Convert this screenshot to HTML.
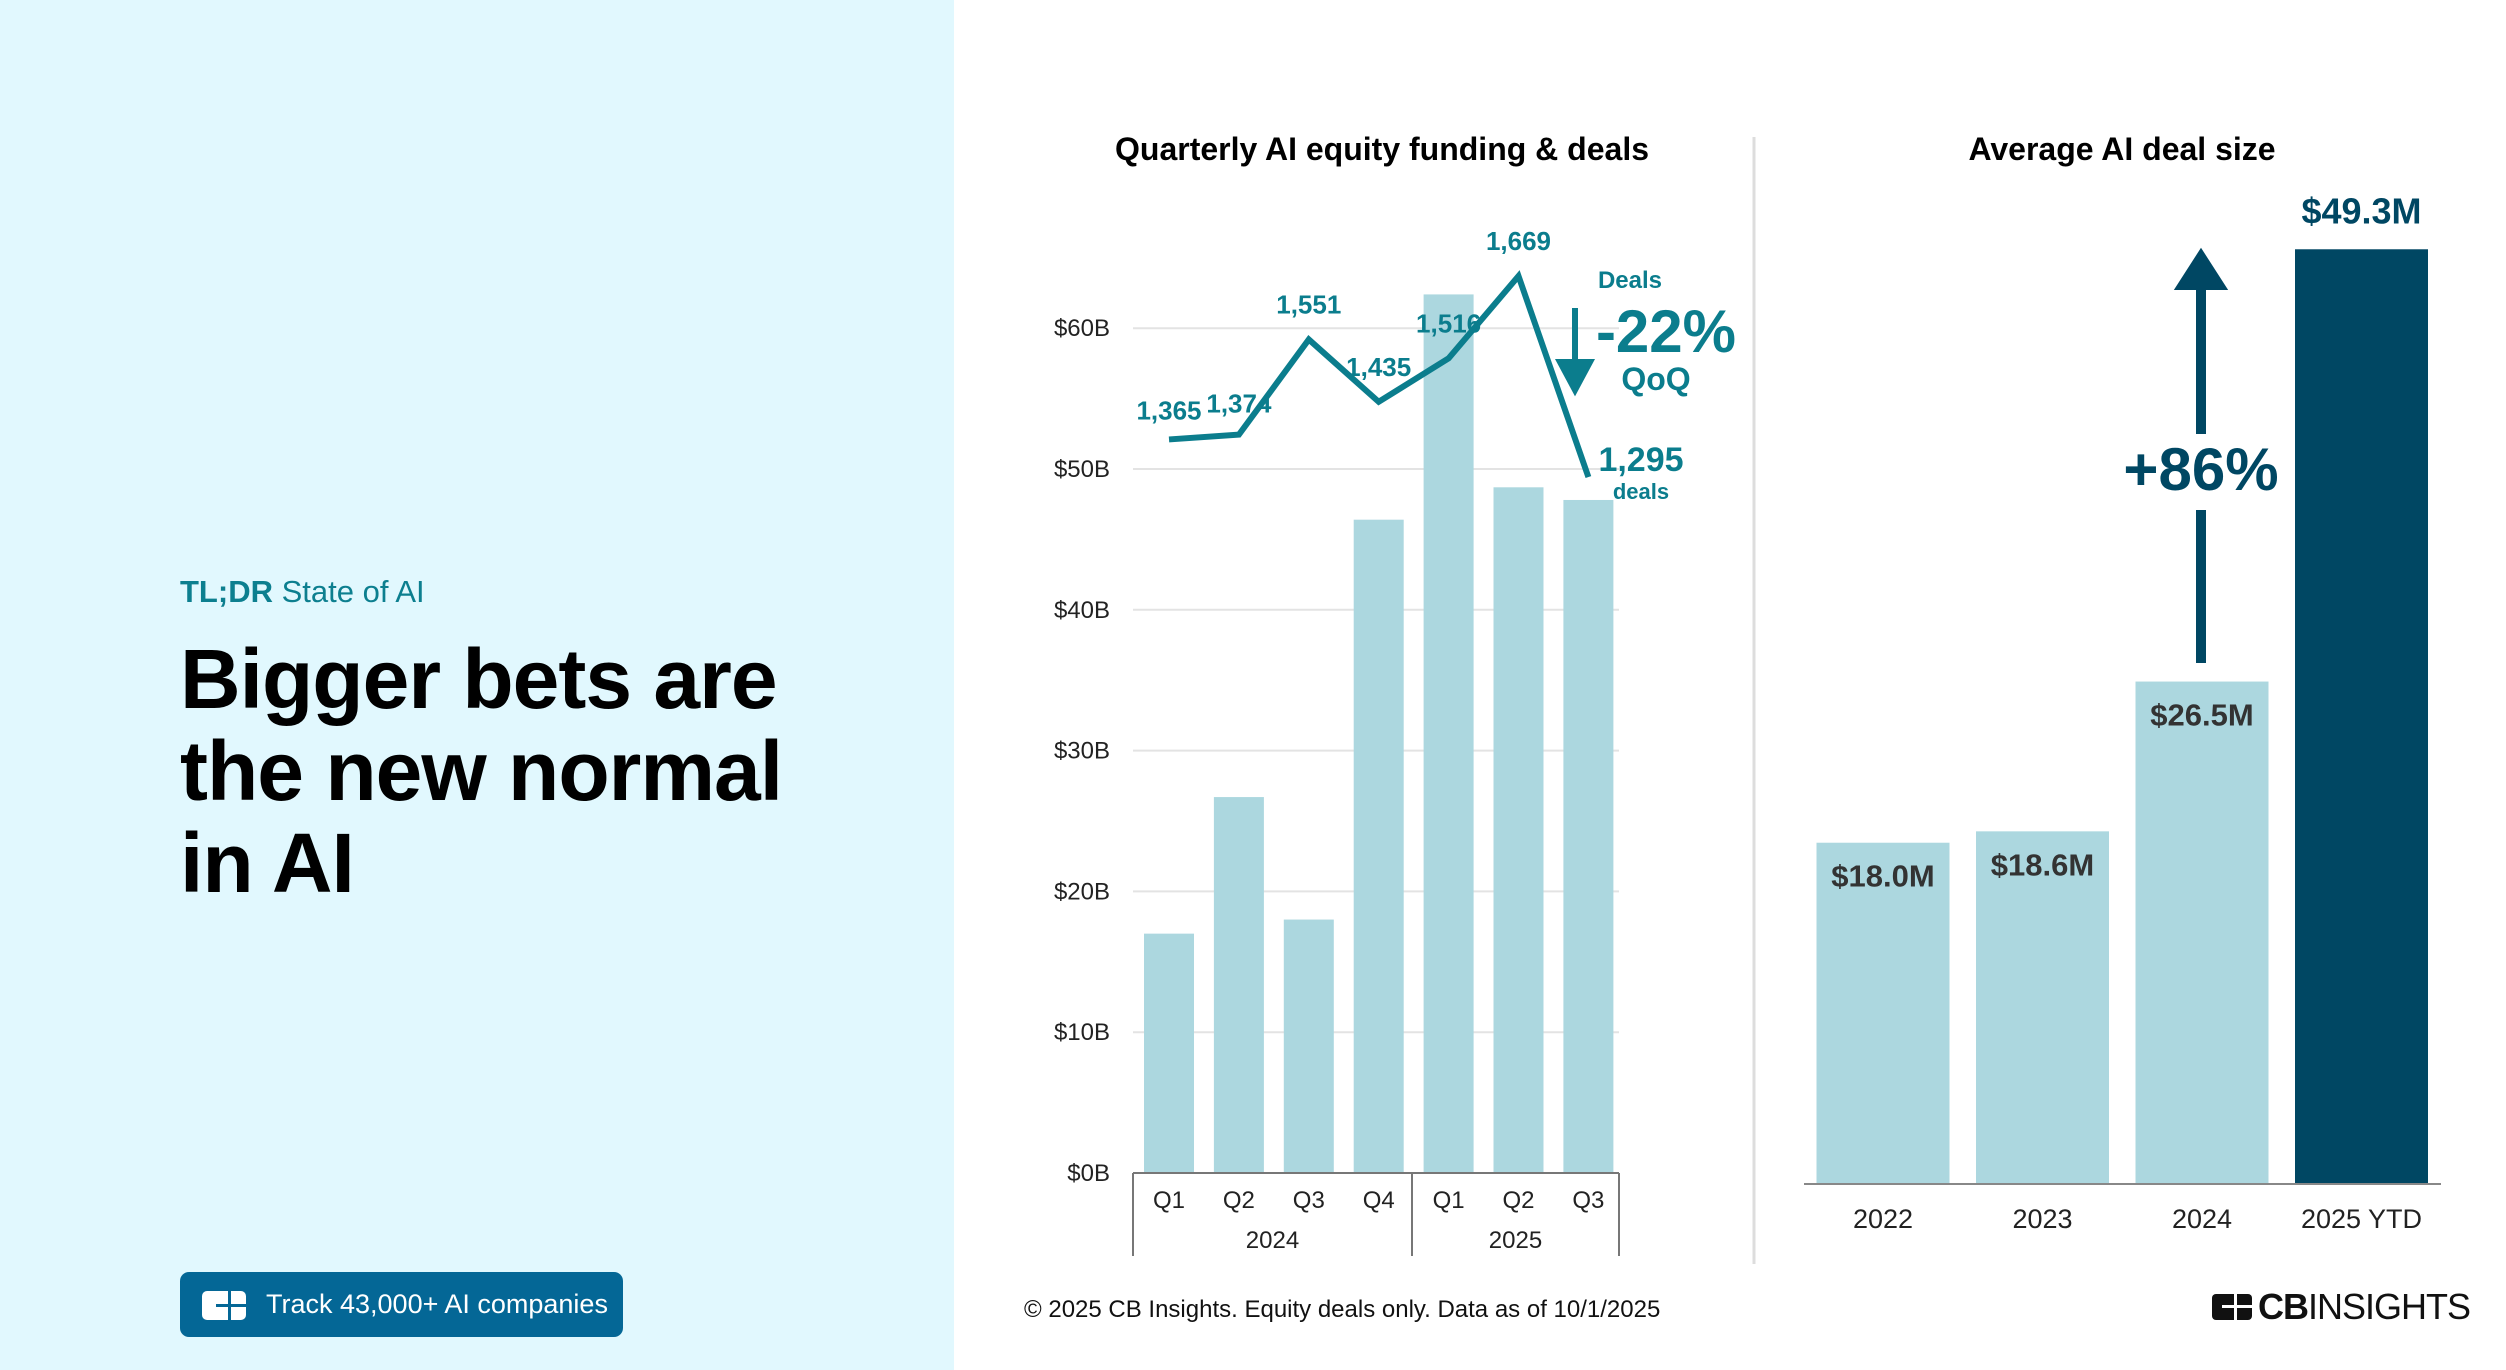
<!DOCTYPE html>
<html><head><meta charset="utf-8"><style>
html,body{margin:0;padding:0;}
body{width:2506px;height:1370px;position:relative;overflow:hidden;background:#fff;font-family:"Liberation Sans",Arial,sans-serif;}
.abs{position:absolute;}
</style></head><body>
<div class="abs" style="left:0;top:0;width:954px;height:1370px;background:#e1f8fe"></div>
<div class="abs" style="left:180px;top:574px;font-size:31px;font-weight:bold;color:#0c7f8f">TL;DR <span style="font-weight:normal">State of AI</span></div>
<div class="abs" style="left:180px;top:633px;font-size:84px;font-weight:bold;line-height:92px;color:#000;letter-spacing:-1px">Bigger bets are<br>the new normal<br>in AI</div>
<div class="abs" style="left:180px;top:1272px;width:443px;height:65px;background:#046796;border-radius:9px;color:#fff;font-size:27px;line-height:65px">
  <span style="position:absolute;left:22px;top:19px;width:44px;height:29px;background:#fff;border-radius:5px"><span style="position:absolute;left:26px;top:0;width:3px;height:29px;background:#046796"></span><span style="position:absolute;left:14px;top:13px;width:30px;height:3px;background:#046796"></span></span>
  <span style="position:absolute;left:86px">Track 43,000+ AI companies</span>
</div>
<div class="abs" style="left:1024px;top:1296px;font-size:24px;color:#111">© 2025 CB Insights. Equity deals only. Data as of 10/1/2025</div>
<div class="abs" style="left:2212px;top:1286px;font-size:36px;color:#111;letter-spacing:-1px;display:flex;align-items:center">
  <span style="display:inline-block;width:40px;height:26px;background:#111;border-radius:4px;margin-right:6px;position:relative"><span style="position:absolute;left:22px;top:0;width:3px;height:26px;background:#fff"></span><span style="position:absolute;left:10px;top:11px;width:30px;height:3px;background:#fff"></span></span><b>CB</b>INSIGHTS</div>

<svg class="abs" style="left:0;top:0" width="2506" height="1370" id="chart">
<line x1="1754" y1="137" x2="1754" y2="1264" stroke="#ddd" stroke-width="3"/>
<text x="1382" y="160" text-anchor="middle" font-size="32" font-weight="bold" fill="#000">Quarterly AI equity funding &amp; deals</text>
<text x="2122" y="160" text-anchor="middle" font-size="32" font-weight="bold" fill="#000">Average AI deal size</text>
<g id="left"></g><g id="right"></g>
</svg>
<script>
const quarters=["Q1","Q2","Q3","Q4","Q1","Q2","Q3"];
const years=["2024","2025"];
const funding=[17.0,26.7,18.0,46.4,62.4,48.7,47.8];
const deals=[1365,1374,1551,1435,1516,1669,1295];
const yTicks=[0,10,20,30,40,50,60];
const avgYears=["2022","2023","2024","2025 YTD"];
const avgSize=[18.0,18.6,26.5,49.3];
const NS="http://www.w3.org/2000/svg";
function mk(p,t,a,txt){const e=document.createElementNS(NS,t);for(const k in a)e.setAttribute(k,a[k]);if(txt!=null)e.textContent=txt;p.appendChild(e);return e;}
const L=document.getElementById('left'),R=document.getElementById('right');
// left axes
const y0=1173,pxB=14.08,gx0=1133,gx1=1619,step=69.9,bx0=1169;
const yF=v=>y0-v*pxB;
const yD=d=>y0-(d/26.2)*pxB;
const xQ=i=>bx0+i*step;
yTicks.forEach(t=>{
 if(t>0){const g=mk(L,'line',{x1:gx0,x2:gx1,y1:yF(t),y2:yF(t),stroke:'#e3e3e3','stroke-width':2});
 }
 const tx=mk(L,'text',{x:1110,y:yF(t)+8,'text-anchor':'end','font-size':24,fill:'#222'},'$'+t+'B');
 
});
funding.forEach((v,i)=>{
 const r=mk(L,'rect',{x:xQ(i)-25,y:yF(v),width:50,height:v*pxB,fill:'#acd7df'});
 
 const q=mk(L,'text',{x:xQ(i),y:1208,'text-anchor':'middle','font-size':24,fill:'#222'},quarters[i]);
 
});
[[gx0,y0,gx1,y0],[gx0,y0,gx0,1256],[1412,y0,1412,1256],[gx1,y0,gx1,1256]].forEach(a=>{
 const l=mk(L,'line',{x1:a[0],y1:a[1],x2:a[2],y2:a[3],stroke:'#777','stroke-width':2});
 });
[[years[0],(gx0+1412)/2],[years[1],(1412+gx1)/2]].forEach(a=>{
 const t=mk(L,'text',{x:a[1],y:1248,'text-anchor':'middle','font-size':24,fill:'#222'},a[0]);
 });
const pts=deals.map((d,i)=>xQ(i)+','+yD(d)).join(' ');
const pl=mk(L,'polyline',{points:pts,fill:'none',stroke:'#0b7d8d','stroke-width':6,'stroke-linejoin':'miter'});

const offs=[[0,-20],[0,-22],[0,-26],[0,-26],[0,-26],[0,-26],[0,0]];
deals.forEach((d,i)=>{
 if(i===6)return;
 const t=mk(L,'text',{x:xQ(i)+offs[i][0],y:yD(d)+offs[i][1],'text-anchor':'middle','font-size':26,'font-weight':'bold',fill:'#0b7d8d'},d.toLocaleString('en-US'));
 
});
const last=mk(L,'text',{x:1641,y:yD(deals[6])-6,'text-anchor':'middle','font-size':34,'font-weight':'bold',fill:'#0b7d8d'},deals[6].toLocaleString('en-US'));

const dl=mk(L,'text',{x:1641,y:yD(deals[6])+22,'text-anchor':'middle','font-size':22,'font-weight':'bold',fill:'#0b7d8d'},'deals');

const a1=mk(L,'text',{x:1630,y:288,'text-anchor':'middle','font-size':24,'font-weight':'bold',fill:'#0b7d8d'},'Deals');

const a2=mk(L,'text',{x:1666,y:352,'text-anchor':'middle','font-size':60,'font-weight':'bold',fill:'#0b7d8d'},'-22%');

const a3=mk(L,'text',{x:1656,y:390,'text-anchor':'middle','font-size':32,'font-weight':'bold',fill:'#0b7d8d'},'QoQ');

const ar=mk(L,'path',{d:'M1575,308 V364 M1560,362 L1590,362 L1575,390 Z',stroke:'#0b7d8d','stroke-width':6,fill:'#0b7d8d'});

// right chart
const ry0=1184,pxM=18.96,rstep=159.5,rx0=1883,bw=133;
const yM=v=>ry0-v*pxM;
const xY=i=>rx0+i*rstep;
avgSize.forEach((v,i)=>{
 const dark=i===avgSize.length-1;
 const r=mk(R,'rect',{x:xY(i)-bw/2,y:yM(v),width:bw,height:v*pxM,fill:dark?'#004763':'#acd7df'});
 
 const t=mk(R,'text',{x:xY(i),y:dark?yM(v)-26:yM(v)+44,'text-anchor':'middle','font-size':dark?36:31,'font-weight':'bold',fill:dark?'#004763':'#333'},'$'+v.toFixed(1)+'M');
 
 const y=mk(R,'text',{x:xY(i),y:1228,'text-anchor':'middle','font-size':27,fill:'#222'},avgYears[i]);
 
});
const bl=mk(R,'line',{x1:1804,x2:2441,y1:ry0,y2:ry0,stroke:'#888','stroke-width':2});

const up=mk(R,'path',{d:'M2201,663 V510 M2201,434 V285 M2183,285 L2219,285 L2201,257 Z',stroke:'#004763','stroke-width':10,fill:'#004763'});

const pc=mk(R,'text',{x:2201,y:490,'text-anchor':'middle','font-size':60,'font-weight':'bold',fill:'#004763'},'+86%');

</script>
</body></html>
